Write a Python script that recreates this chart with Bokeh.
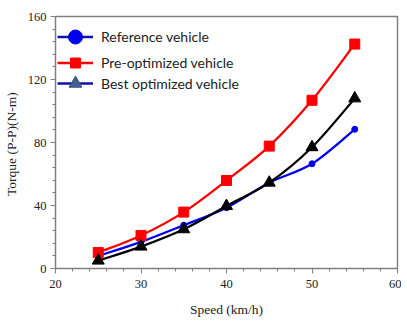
import numpy as np
from bokeh.plotting import figure
from bokeh.models import ColumnDataSource, Legend, LegendItem, FixedTicker, Range1d
from bokeh.embed import file_html
from bokeh.resources import INLINE

speed = [25, 30, 35, 40, 45, 50, 55]
reference = [8.0, 16.9, 27.5, 38.6, 54.5, 66.5, 88.4]
pre_optimized = [10.1, 21.0, 35.8, 55.9, 77.7, 106.8, 142.5]
best_optimized = [5.0, 13.9, 24.9, 39.7, 54.5, 77.0, 108.0]
labels = ["Reference vehicle", "Pre-optimized vehicle", "Best optimized vehicle"]

x_ticks = [20, 30, 40, 50, 60]
y_ticks = [0, 40, 80, 120, 160]

p = figure(frame_width=342, frame_height=252, output_backend="svg", toolbar_location=None,
           x_range=Range1d(20, 60), y_range=Range1d(0, 160),
           min_border_left=49, min_border_right=4, min_border_top=16, min_border_bottom=40)
p.xgrid.visible = False
p.ygrid.visible = False
p.outline_line_color = "#808080"
p.outline_line_width = 1.5
p.background_fill_color = "white"
p.border_fill_color = "white"

for ax in (p.xaxis[0], p.yaxis[0]):
    ax.axis_line_color = "#808080"
    ax.major_tick_line_color = "#808080"
    ax.minor_tick_line_color = "#808080"
    ax.major_tick_in = 0
    ax.major_tick_out = 5
    ax.minor_tick_in = 0
    ax.minor_tick_out = 3
    ax.major_label_text_font = "Liberation Serif"
    ax.major_label_text_font_size = "12.5px"
    ax.major_label_text_color = "#222222"
    ax.axis_label_text_font = "Liberation Serif"
    ax.axis_label_text_font_size = "13.5px"
    ax.axis_label_text_font_style = "normal"
    ax.axis_label_text_color = "#222222"

p.xaxis.ticker = FixedTicker(ticks=x_ticks, minor_ticks=list(range(20, 61, 2)))
p.yaxis.ticker = FixedTicker(ticks=y_ticks, minor_ticks=list(range(0, 161, 8)))
p.xaxis.axis_label = "Speed (km/h)"
p.yaxis.axis_label = "Torque  (P-P)(N-m)"
p.xaxis.major_label_standoff = 6
p.xaxis.axis_label_standoff = 11
p.yaxis.major_label_standoff = 4
p.yaxis.axis_label_standoff = 6


def smooth(xs, ys):
    xs = np.asarray(xs, float)
    ys = np.asarray(ys, float)
    n = len(xs)
    px = np.concatenate([[xs[0]], xs, [xs[-1]]])
    py = np.concatenate([[ys[0]], ys, [ys[-1]]])
    d = dict(x0=[], y0=[], x1=[], y1=[], cx0=[], cy0=[], cx1=[], cy1=[])
    for i in range(n - 1):
        a, b = i + 1, i + 2
        d["x0"].append(px[a]); d["y0"].append(py[a])
        d["x1"].append(px[b]); d["y1"].append(py[b])
        d["cx0"].append(px[a] + (px[b] - px[a - 1]) / 6)
        d["cy0"].append(py[a] + (py[b] - py[a - 1]) / 6)
        d["cx1"].append(px[b] - (px[b + 1] - px[a]) / 6)
        d["cy1"].append(py[b] - (py[b + 1] - py[a]) / 6)
    return ColumnDataSource(d)


series = [
    (reference, "#0000EE", "circle", 6),
    (pre_optimized, "#FF0000", "square", 10),
    (best_optimized, "#000000", "triangle", 12),
]
for ys, col, mk, sz in series:
    p.bezier(x0="x0", y0="y0", x1="x1", y1="y1", cx0="cx0", cy0="cy0", cx1="cx1", cy1="cy1",
             source=smooth(speed, ys), line_color=col, line_width=2.3)
for ys, col, mk, sz in series:
    p.scatter(speed, ys, marker=mk, size=sz, fill_color=col, line_color=col)


# legend-only renderers (no visible data)
def legend_src():
    return ColumnDataSource(dict(x=[np.nan], y=[np.nan]))


l1 = p.line("x", "y", source=legend_src(), line_color="#1010B0", line_width=2.3)
m1 = p.scatter("x", "y", source=legend_src(), marker="circle", size=14,
               fill_color="#0000EE", line_color="#0000EE")
l2 = p.line("x", "y", source=legend_src(), line_color="#FF0000", line_width=2.3)
m2 = p.scatter("x", "y", source=legend_src(), marker="square", size=10,
               fill_color="#FF0000", line_color="#FF0000")
l3 = p.line("x", "y", source=legend_src(), line_color="#1010B0", line_width=2.3)
m3 = p.scatter("x", "y", source=legend_src(), marker="triangle", size=13,
               fill_color="#46608F", line_color="#34507A")

# one legend per row so each row's marker can have its own size
legend_specs = [
    (labels[0], [l1, m1], 35, 214),
    (labels[1], [l2, m2], 25, 193),
    (labels[2], [l3, m3], 32, 169),
]
for lab, rends, gh, ybot in legend_specs:
    lg = Legend(items=[LegendItem(label=lab, renderers=rends)], location=(2, ybot))
    lg.border_line_color = None
    lg.background_fill_alpha = 0
    lg.padding = 0
    lg.margin = 0
    lg.glyph_width = 36
    lg.glyph_height = gh
    lg.label_standoff = 8
    lg.label_text_font = "Lato"
    lg.label_text_font_size = "14px"
    lg.label_text_color = "#222222"
    p.add_layout(lg, "center")

open("out.html", "w").write(file_html(p, INLINE))
